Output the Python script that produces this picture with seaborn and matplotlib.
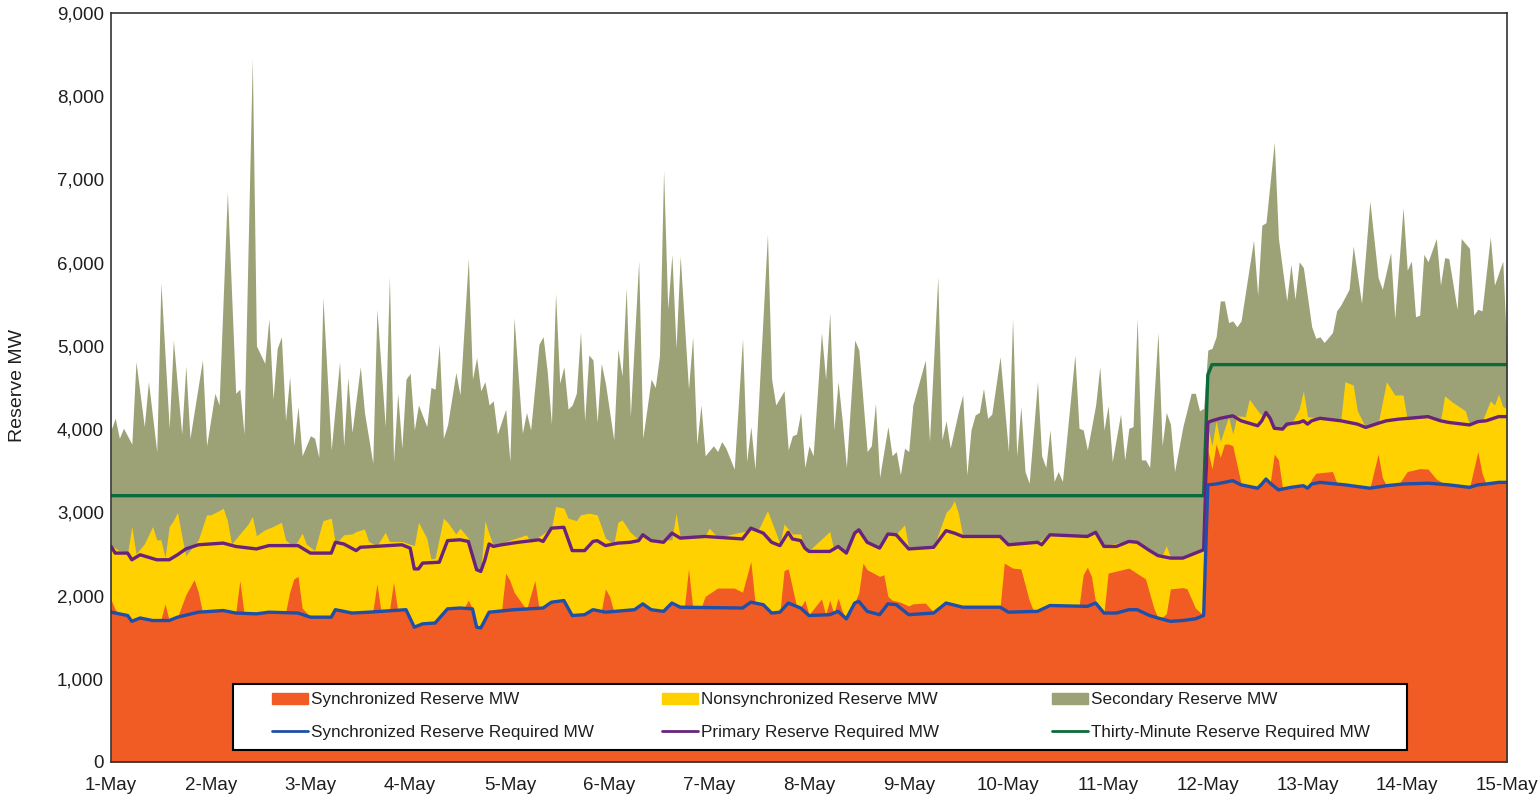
"""
reserve_mw.py
-------------
Hourly reserve MW vs. reserve requirements, 1-May to 15-May.
Stacked areas (synchronized / nonsynchronized / secondary) with the
three requirement lines drawn on top.
"""

import matplotlib
matplotlib.use("Agg")
import matplotlib.pyplot as plt
import seaborn as sns
from matplotlib.legend import Legend
from matplotlib.patches import Patch, Rectangle
from matplotlib.lines import Line2D
from matplotlib.ticker import FuncFormatter

# ----------------------------------------------------------------------
# Data -- hour 0 = 1-May 00:00
# Each area is given by the top edge of its band in the stack.
# ----------------------------------------------------------------------
secondary_hours = [
    0, 1, 2, 3, 5, 6, 8, 9, 11, 12, 14, 15, 17, 18, 19, 22, 23, 25, 26, 28,
    30, 31, 32, 34, 35, 37, 38, 39, 40, 41, 42, 43, 44, 45, 46, 48, 49, 50, 51, 53,
    55, 56, 57, 58, 60, 61, 63, 64, 66, 67, 68, 69, 70, 71, 72, 73, 74, 76, 77, 78,
    79, 80, 81, 83, 84, 86, 87, 88, 89, 90, 91, 92, 93, 95, 96, 97, 99, 100, 101, 103,
    104, 105, 106, 107, 108, 109, 110, 111, 112, 113, 114, 115, 116, 117, 118, 119, 121, 122, 123, 124,
    125, 127, 128, 130, 131, 132, 133, 134, 135, 136, 137, 139, 140, 141, 142, 143, 145, 146, 147, 148,
    150, 152, 153, 154, 155, 158, 159, 160, 162, 163, 164, 165, 166, 167, 168, 169, 171, 172, 173, 174,
    175, 176, 177, 179, 180, 182, 183, 184, 185, 187, 188, 189, 190, 191, 192, 193, 196, 197, 199, 200,
    201, 202, 204, 205, 206, 207, 208, 209, 210, 211, 212, 214, 216, 217, 218, 219, 220, 221, 223, 224,
    225, 226, 227, 228, 229, 232, 233, 234, 235, 237, 238, 239, 240, 241, 243, 244, 245, 246, 247, 248,
    249, 250, 252, 253, 254, 255, 256, 258, 260, 261, 262, 263, 264, 265, 266, 267, 268, 269, 270, 271,
    272, 275, 276, 277, 278, 280, 281, 282, 283, 284, 285, 286, 287, 289, 290, 291, 292, 294, 295, 296,
    298, 299, 301, 303, 305, 306, 308, 309, 311, 312, 313, 314, 315, 316, 317, 319, 320, 321, 322, 324,
    325, 327, 328, 329, 330, 332, 333, 335, 336,
]
secondary_top_mw = [
    3990, 4130, 3890, 4010, 3820, 4810, 4030, 4570, 3730, 5760, 4010, 5070, 3940, 4760, 3890, 4830, 3800, 4430, 4290, 6850,
    4430, 4480, 3940, 8450, 5000, 4790, 5330, 4360, 4970, 5110, 4100, 4630, 3800, 4270, 3680, 3920, 3890, 3660, 5580, 3750,
    4810, 3800, 4620, 3960, 4750, 4200, 3590, 5440, 4030, 5830, 3610, 4430, 3770, 4600, 4670, 3990, 4290, 4030, 4500, 4480,
    5020, 3890, 4050, 4680, 4410, 6050, 4600, 4860, 4460, 4570, 4290, 4340, 3940, 4240, 3610, 5340, 3950, 4200, 3990, 5020,
    5110, 4690, 4060, 5630, 4550, 4750, 4240, 4290, 4430, 5170, 4100, 4890, 4830, 4080, 4790, 4550, 3870, 4960, 4640, 5700,
    4150, 6020, 3890, 4600, 4500, 4880, 7110, 5440, 6100, 4970, 6080, 4480, 5110, 3820, 4290, 3680, 3800, 3730, 3850, 3770,
    3520, 5090, 3610, 4030, 3520, 6340, 4600, 4290, 4460, 3750, 3920, 3940, 4200, 3540, 3800, 3680, 5160, 4600, 5400, 3990,
    4570, 4100, 3540, 5070, 4950, 3730, 3800, 4310, 3420, 4030, 3680, 3730, 3450, 3770, 3730, 4290, 4830, 3850, 5830, 3870,
    4100, 3770, 4220, 4410, 3450, 3990, 4170, 4200, 4490, 4130, 4180, 4870, 3730, 5330, 3680, 4270, 3490, 3350, 4570, 3680,
    3540, 3990, 3370, 3490, 3370, 4890, 4010, 3990, 3750, 4290, 4750, 3990, 4280, 3610, 4180, 3630, 4010, 4030, 5330, 3630,
    3630, 3540, 5160, 3800, 4200, 4060, 3490, 4030, 4430, 4430, 4220, 4250, 4950, 4970, 5110, 5540, 5540, 5280, 5300, 5230,
    5300, 6270, 5610, 6450, 6480, 7450, 6290, 5910, 5540, 5980, 5560, 6010, 5940, 5230, 5090, 5110, 5040, 5160, 5420, 5490,
    5680, 6200, 5510, 6740, 5820, 5680, 6120, 5330, 6660, 5910, 6020, 5350, 5370, 6100, 6010, 6290, 5730, 6060, 6050, 5440,
    6290, 6170, 5370, 5440, 5420, 6310, 5730, 6020, 4900,
]

nonsync_hours = [
    0, 2, 4, 5, 6, 8, 10, 11, 12, 13, 14, 15, 16, 17, 18, 21, 23, 24, 26, 27,
    28, 29, 33, 34, 35, 37, 38, 39, 41, 42, 44, 46, 47, 49, 51, 53, 54, 56, 58, 59,
    61, 62, 64, 66, 67, 70, 73, 74, 76, 77, 78, 80, 81, 83, 84, 86, 88, 89, 90, 91,
    92, 100, 101, 106, 107, 109, 110, 112, 113, 115, 117, 119, 121, 122, 123, 125, 127, 128, 130, 135,
    136, 137, 143, 144, 146, 156, 158, 160, 161, 162, 164, 166, 167, 168, 173, 174, 175, 177, 179, 180,
    182, 185, 187, 189, 191, 192, 198, 199, 201, 202, 203, 204, 205, 214, 216, 223, 226, 235, 237, 239,
    245, 247, 250, 252, 253, 254, 255, 258, 260, 263, 264, 265, 266, 267, 269, 270, 271, 273, 274, 276,
    277, 278, 280, 282, 284, 286, 287, 288, 291, 296, 297, 299, 300, 302, 305, 307, 309, 311, 312, 317,
    320, 321, 323, 326, 327, 330, 332, 333, 334, 335, 336,
]
nonsync_top_mw = [
    2600, 2540, 2520, 2830, 2500, 2620, 2830, 2670, 2670, 2460, 2830, 2900, 3000, 2720, 2480, 2670, 2970, 2970, 3020, 3050,
    2900, 2620, 2860, 2950, 2720, 2790, 2810, 2830, 2880, 2670, 2580, 2750, 2620, 2540, 2900, 2930, 2620, 2730, 2740, 2770,
    2800, 2650, 2600, 2760, 2650, 2650, 2600, 2880, 2690, 2440, 2450, 2930, 2880, 2740, 2810, 2690, 2300, 2300, 2900, 2740,
    2600, 2730, 2640, 2810, 3070, 3050, 2930, 2900, 2970, 2990, 2970, 2690, 2620, 2880, 2910, 2760, 2670, 2730, 2670, 2670,
    2990, 2700, 2720, 2810, 2700, 2810, 3020, 2760, 2620, 2860, 2740, 2740, 2540, 2540, 2770, 2540, 2600, 2520, 2760, 2800,
    2650, 2580, 2750, 2740, 2850, 2570, 2590, 2720, 3000, 3050, 3140, 2980, 2720, 2720, 2620, 2640, 2740, 2720, 2770, 2600,
    2660, 2650, 2550, 2490, 2480, 2600, 2460, 2460, 2500, 2560, 4030, 3800, 4100, 3850, 4150, 3940, 4160, 4150, 4360, 4220,
    4170, 4200, 4010, 4000, 4060, 4240, 4460, 4150, 4130, 4100, 4570, 4530, 4220, 4020, 4070, 4570, 4410, 4410, 4110, 4150,
    4100, 4400, 4320, 4220, 4050, 4090, 4340, 4290, 4420, 4270, 4250,
]

sync_hours = [
    0, 1, 2, 4, 5, 7, 10, 12, 13, 14, 16, 18, 20, 21, 22, 27, 30, 31, 32, 35,
    38, 42, 43, 44, 45, 46, 48, 53, 54, 58, 62, 63, 64, 65, 67, 68, 69, 71, 73, 75,
    78, 81, 84, 85, 86, 87, 88, 89, 91, 94, 95, 96, 97, 99, 100, 102, 103, 104, 106, 109,
    111, 114, 116, 118, 119, 120, 121, 126, 128, 130, 133, 135, 137, 138, 139, 140, 142, 143, 146, 150,
    152, 154, 155, 157, 159, 161, 162, 163, 165, 166, 167, 168, 171, 172, 173, 174, 175, 176, 177, 179,
    180, 181, 182, 185, 186, 187, 188, 190, 192, 193, 196, 198, 201, 205, 214, 215, 217, 219, 221, 222,
    223, 226, 233, 234, 235, 236, 237, 239, 240, 245, 249, 251, 252, 253, 254, 255, 258, 259, 261, 263,
    264, 265, 266, 267, 268, 269, 270, 272, 276, 277, 278, 279, 280, 281, 282, 284, 287, 288, 289, 290,
    294, 295, 297, 303, 305, 306, 307, 310, 312, 315, 317, 319, 321, 327, 329, 330, 331, 334, 336,
]
sync_top_mw = [
    1950, 1830, 1780, 1760, 1690, 1730, 1700, 1710, 1900, 1700, 1740, 2010, 2190, 2040, 1800, 1820, 1790, 2180, 1790, 1780,
    1800, 1795, 2040, 2200, 2230, 1850, 1740, 1740, 1830, 1790, 1800, 1805, 2140, 1805, 1820, 2160, 1820, 1830, 1620, 1660,
    1670, 1840, 1850, 1850, 1945, 1840, 1620, 1610, 1800, 1820, 2270, 2180, 2040, 1900, 1830, 2180, 1850, 1850, 1920, 1940,
    1760, 1770, 1830, 1810, 2080, 1990, 1810, 1830, 1900, 1830, 1810, 1910, 1860, 1860, 2320, 1860, 1850, 1990, 2090, 2090,
    2040, 2410, 1920, 1890, 1790, 1800, 2300, 2320, 1870, 1860, 1945, 1770, 1960, 1770, 1945, 1780, 1970, 1810, 1720, 1910,
    2040, 2390, 2310, 2230, 2250, 1990, 1945, 1920, 1875, 1900, 1910, 1800, 1910, 1860, 1860, 2390, 2330, 2320, 1945, 1820,
    1810, 1880, 1870, 2250, 2340, 2230, 1910, 1790, 2270, 2330, 2200, 1850, 1730, 1740, 1780, 2080, 2095, 2080, 1850, 1760,
    3750, 3520, 3820, 3660, 3820, 3820, 3800, 3350, 3290, 3340, 3400, 3350, 3700, 3630, 3280, 3300, 3320, 3290, 3400, 3470,
    3490, 3360, 3330, 3290, 3700, 3420, 3320, 3340, 3490, 3525, 3520, 3400, 3340, 3300, 3730, 3470, 3340, 3360, 3360,
]

sync_req_hours = [
    0, 2, 4, 5, 7, 10, 14, 16, 21, 27, 30, 35, 38, 45, 48, 53, 54, 58, 62, 71,
    73, 75, 78, 81, 84, 87, 88, 89, 91, 97, 104, 106, 109, 111, 114, 116, 119, 126, 128, 130,
    133, 135, 137, 152, 154, 157, 159, 161, 163, 166, 168, 173, 175, 177, 179, 180, 182, 185, 187, 189,
    192, 198, 201, 205, 214, 216, 223, 226, 235, 237, 239, 242, 245, 247, 250, 252, 255, 258, 261, 263,
    264, 266, 270, 272, 276, 277, 278, 279, 281, 282, 284, 287, 288, 289, 291, 297, 303, 307, 311, 317,
    322, 327, 329, 331, 334, 336,
]
sync_req_mw = [
    1800, 1780, 1760, 1690, 1730, 1700, 1700, 1740, 1800, 1820, 1790, 1780, 1800, 1790, 1740, 1740, 1830, 1790, 1800, 1830,
    1620, 1660, 1670, 1840, 1850, 1840, 1620, 1610, 1800, 1830, 1850, 1920, 1940, 1760, 1770, 1830, 1800, 1830, 1900, 1830,
    1810, 1910, 1860, 1850, 1920, 1890, 1790, 1800, 1910, 1850, 1760, 1770, 1810, 1720, 1910, 1930, 1810, 1770, 1900, 1890,
    1770, 1790, 1910, 1860, 1860, 1800, 1810, 1880, 1870, 1910, 1790, 1790, 1830, 1830, 1760, 1730, 1690, 1700, 1720, 1760,
    3330, 3340, 3380, 3330, 3290, 3340, 3400, 3350, 3270, 3280, 3300, 3320, 3290, 3340, 3360, 3330, 3290, 3320, 3340, 3350,
    3330, 3300, 3330, 3340, 3360, 3360,
]

primary_req_hours = [
    0, 1, 4, 5, 7, 11, 14, 16, 18, 21, 27, 30, 35, 38, 45, 46, 48, 53, 54, 56,
    59, 60, 70, 72, 73, 74, 75, 79, 81, 84, 86, 88, 89, 90, 91, 92, 94, 98, 103, 104,
    106, 109, 111, 114, 116, 117, 119, 122, 125, 127, 128, 130, 133, 135, 137, 143, 152, 154, 157, 159,
    161, 163, 164, 166, 167, 168, 173, 175, 177, 179, 180, 182, 185, 187, 189, 192, 198, 201, 203, 205,
    214, 216, 223, 224, 226, 235, 237, 239, 242, 245, 247, 250, 252, 253, 255, 258, 260, 263, 264, 265,
    267, 270, 272, 276, 277, 278, 279, 280, 282, 283, 286, 287, 288, 289, 291, 296, 300, 302, 305, 307,
    310, 317, 320, 322, 327, 329, 331, 334, 336,
]
primary_req_mw = [
    2590, 2510, 2510, 2430, 2490, 2430, 2430, 2490, 2560, 2610, 2630, 2590, 2560, 2600, 2600, 2570, 2510, 2510, 2640, 2620,
    2540, 2580, 2610, 2570, 2320, 2320, 2390, 2400, 2660, 2670, 2650, 2310, 2290, 2430, 2620, 2590, 2610, 2640, 2670, 2650,
    2810, 2820, 2540, 2540, 2650, 2660, 2600, 2630, 2640, 2660, 2730, 2660, 2640, 2750, 2690, 2710, 2680, 2810, 2750, 2640,
    2600, 2760, 2680, 2660, 2570, 2530, 2530, 2590, 2510, 2750, 2790, 2640, 2570, 2740, 2730, 2560, 2580, 2780, 2750, 2710,
    2710, 2610, 2640, 2610, 2730, 2710, 2760, 2590, 2590, 2650, 2640, 2540, 2480, 2470, 2450, 2450, 2490, 2550, 4080, 4100,
    4130, 4160, 4100, 4040, 4100, 4200, 4130, 4010, 4000, 4060, 4080, 4100, 4060, 4100, 4130, 4100, 4060, 4020, 4070, 4100,
    4120, 4150, 4100, 4080, 4050, 4090, 4100, 4150, 4150,
]

thirty_req_hours = [0, 263, 264, 265, 336]
thirty_req_mw = [3200, 3200, 4650, 4775, 4775]

day_ticks = [0, 24, 48, 72, 96, 120, 144, 168, 192, 216, 240, 264, 288, 312, 336]
day_labels = ['1-May', '2-May', '3-May', '4-May', '5-May', '6-May', '7-May', '8-May',
              '9-May', '10-May', '11-May', '12-May', '13-May', '14-May', '15-May']

SYNC_COLOR = '#F15B24'
NONSYNC_COLOR = '#FFD100'
SECONDARY_COLOR = '#9DA176'
SYNC_REQ_COLOR = '#1F4FA8'
PRIMARY_REQ_COLOR = '#68237D'
THIRTY_REQ_COLOR = '#0B6B3A'
TEXT_COLOR = '#1E1E1E'


def add_legend_column(ax, handles, labels, x):
    # one column of the legend (area on top, requirement line below)
    leg = Legend(ax, handles, labels, loc='center left', bbox_to_anchor=(x, 0.0614),
                 frameon=False, fontsize=12.3, handlelength=2.1, handletextpad=0.18,
                 borderaxespad=0, borderpad=0, labelspacing=1.0)
    for text in leg.get_texts():
        text.set_color(TEXT_COLOR)
    leg.set_zorder(6)
    ax.add_artist(leg)


def main():
    sns.set_theme(style='white')
    plt.rcParams['font.family'] = ['Liberation Sans', 'DejaVu Sans']

    fig = plt.figure(figsize=(15.38, 8.06), dpi=100)
    ax = fig.add_axes([0.0722, 0.0546, 0.9076, 0.9293])

    # stacked bands, drawn back to front
    ax.fill_between(secondary_hours, 0, secondary_top_mw, color=SECONDARY_COLOR, linewidth=0)
    ax.fill_between(nonsync_hours, 0, nonsync_top_mw, color=NONSYNC_COLOR, linewidth=0)
    ax.fill_between(sync_hours, 0, sync_top_mw, color=SYNC_COLOR, linewidth=0)

    sns.lineplot(x=thirty_req_hours, y=thirty_req_mw, ax=ax, color=THIRTY_REQ_COLOR,
                 linewidth=2.4, estimator=None)
    sns.lineplot(x=primary_req_hours, y=primary_req_mw, ax=ax, color=PRIMARY_REQ_COLOR,
                 linewidth=2.4, estimator=None)
    sns.lineplot(x=sync_req_hours, y=sync_req_mw, ax=ax, color=SYNC_REQ_COLOR,
                 linewidth=2.4, estimator=None)

    ax.set_xlim(0, 336)
    ax.set_ylim(0, 9000)
    ax.set_xticks(day_ticks)
    ax.set_xticklabels(day_labels)
    ax.set_yticks(range(0, 9001, 1000))
    ax.yaxis.set_major_formatter(FuncFormatter(lambda v, _: f'{int(v):,}'))
    ax.tick_params(axis='x', length=0, pad=11, labelsize=13.5, colors=TEXT_COLOR)
    ax.tick_params(axis='y', length=0, pad=5, labelsize=13.5, colors=TEXT_COLOR)
    ax.set_xlabel('')
    ax.set_ylabel('Reserve MW', fontsize=14, color=TEXT_COLOR)
    ax.yaxis.set_label_coords(-0.061, 0.503)

    for spine in ax.spines.values():
        spine.set_color('#333333')
        spine.set_linewidth(1.2)

    # legend box, then the three legend columns inside it
    ax.add_patch(Rectangle((0.0874, 0.016), 0.841, 0.0881, transform=ax.transAxes,
                           facecolor='white', edgecolor='black', linewidth=1.5,
                           zorder=5, clip_on=False))
    add_legend_column(ax,
                      [Patch(color=SYNC_COLOR), Line2D([], [], color=SYNC_REQ_COLOR, linewidth=2)],
                      ['Synchronized Reserve MW', 'Synchronized Reserve Required MW'],
                      0.1153)
    add_legend_column(ax,
                      [Patch(color=NONSYNC_COLOR), Line2D([], [], color=PRIMARY_REQ_COLOR, linewidth=2)],
                      ['Nonsynchronized Reserve MW', 'Primary Reserve Required MW'],
                      0.3947)
    add_legend_column(ax,
                      [Patch(color=SECONDARY_COLOR), Line2D([], [], color=THIRTY_REQ_COLOR, linewidth=2)],
                      ['Secondary Reserve MW', 'Thirty-Minute Reserve Required MW'],
                      0.6741)

    fig.savefig('out.png', dpi=100)


if __name__ == '__main__':
    main()
